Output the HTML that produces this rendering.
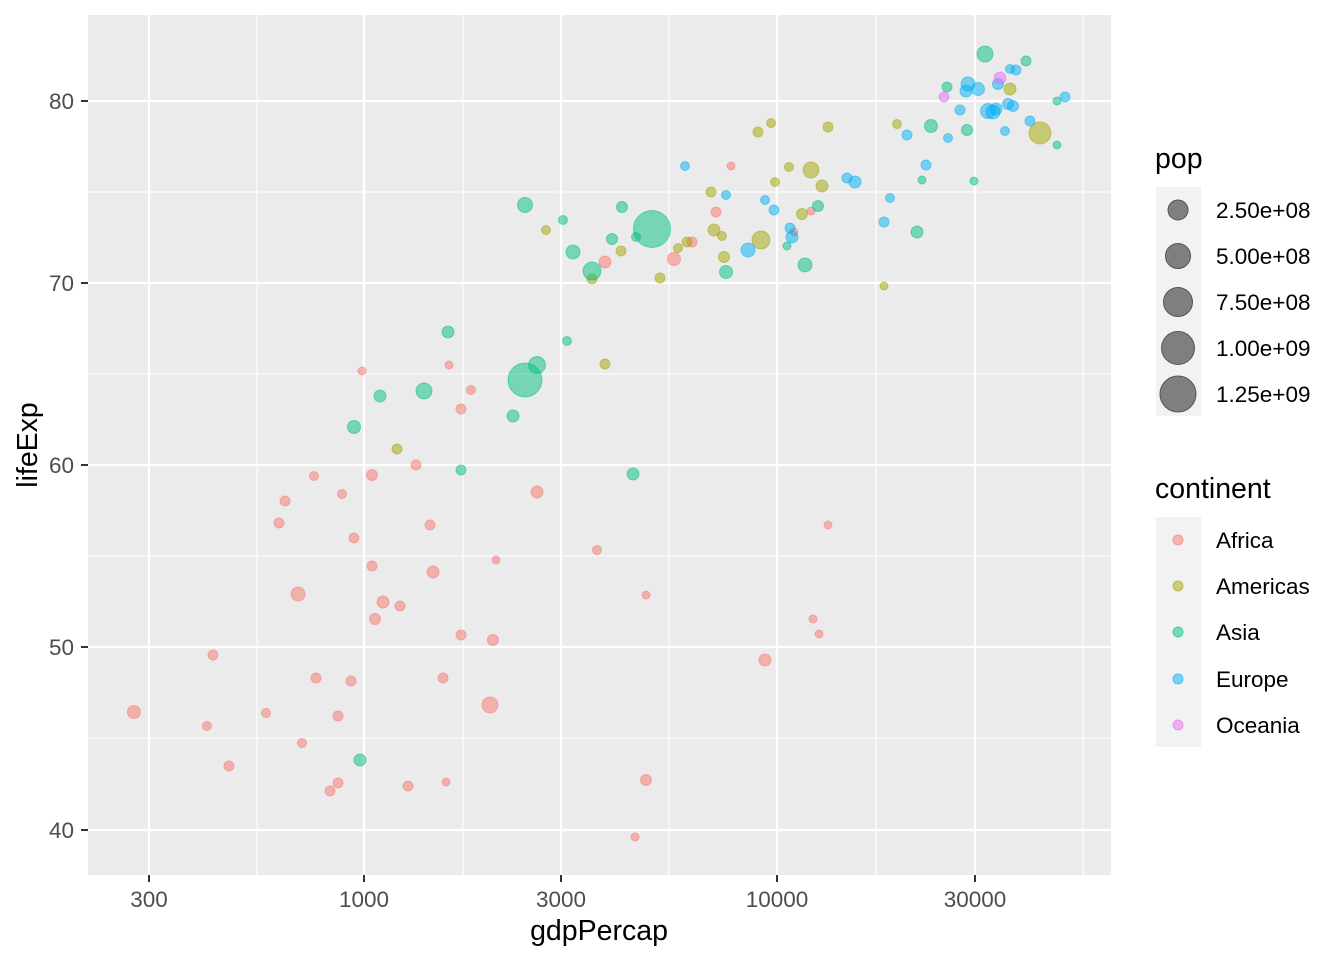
<!DOCTYPE html>
<html><head><meta charset="utf-8"><style>
body{margin:0;background:#fff;}
svg text{font-family:"Liberation Sans",Arial,sans-serif;}
</style></head><body>
<svg width="1344" height="960" viewBox="0 0 1344 960" xmlns="http://www.w3.org/2000/svg">
<rect x="0" y="0" width="1344" height="960" fill="#fff"/>
<rect x="88" y="15" width="1023" height="860" fill="#ebebeb"/>
<g stroke="#fff" stroke-width="1.1">
<line x1="88" x2="1111" y1="192" y2="192"/><line x1="88" x2="1111" y1="374" y2="374"/><line x1="88" x2="1111" y1="556" y2="556"/><line x1="88" x2="1111" y1="738" y2="738"/>
<line y1="15" y2="875" x1="257" x2="257"/><line y1="15" y2="875" x1="463" x2="463"/><line y1="15" y2="875" x1="669" x2="669"/><line y1="15" y2="875" x1="876" x2="876"/><line y1="15" y2="875" x1="1083" x2="1083"/>
</g>
<g stroke="#fff" stroke-width="2.2">
<line x1="88" x2="1111" y1="101" y2="101"/><line x1="88" x2="1111" y1="283" y2="283"/><line x1="88" x2="1111" y1="465" y2="465"/><line x1="88" x2="1111" y1="647" y2="647"/><line x1="88" x2="1111" y1="830" y2="830"/>
<line y1="15" y2="875" x1="149" x2="149"/><line y1="15" y2="875" x1="364" x2="364"/><line y1="15" y2="875" x1="561" x2="561"/><line y1="15" y2="875" x1="777" x2="777"/><line y1="15" y2="875" x1="975" x2="975"/>
</g>
<g id="pts" fill-opacity="0.5" stroke-opacity="0.5" stroke-width="1"></g>
<g font-size="22.5" fill="#4d4d4d">
<text x="74" y="109" text-anchor="end">80</text><text x="74" y="291" text-anchor="end">70</text><text x="74" y="473" text-anchor="end">60</text><text x="74" y="655" text-anchor="end">50</text><text x="74" y="838" text-anchor="end">40</text>
<text x="149" y="907" text-anchor="middle">300</text><text x="364" y="907" text-anchor="middle">1000</text><text x="561" y="907" text-anchor="middle">3000</text><text x="777" y="907" text-anchor="middle">10000</text><text x="975" y="907" text-anchor="middle">30000</text>
</g>
<g stroke="#333" stroke-width="2">
<line x1="81" x2="88" y1="101" y2="101"/><line x1="81" x2="88" y1="283" y2="283"/><line x1="81" x2="88" y1="465" y2="465"/><line x1="81" x2="88" y1="647" y2="647"/><line x1="81" x2="88" y1="830" y2="830"/>
<line y1="875" y2="882" x1="149" x2="149"/><line y1="875" y2="882" x1="364" x2="364"/><line y1="875" y2="882" x1="561" x2="561"/><line y1="875" y2="882" x1="777" x2="777"/><line y1="875" y2="882" x1="975" x2="975"/>
</g>
<text x="599" y="940" font-size="28.5" text-anchor="middle">gdpPercap</text>
<text transform="translate(37,445) rotate(-90)" font-size="28.5" text-anchor="middle">lifeExp</text>
<text x="1155" y="168" font-size="28.5">pop</text>
<rect x="1156" y="187" width="45" height="229" fill="#f2f2f2"/>
<g fill="#7f7f7f" stroke="#555" stroke-width="1">
<circle cx="1178" cy="210" r="10"/><circle cx="1178" cy="256" r="12.5"/><circle cx="1178" cy="302" r="14.5"/><circle cx="1178" cy="348" r="16.5"/><circle cx="1178" cy="394" r="18"/>
</g>
<g font-size="22.5" fill="#000">
<text x="1216" y="218">2.50e+08</text><text x="1216" y="264">5.00e+08</text><text x="1216" y="310">7.50e+08</text><text x="1216" y="356">1.00e+09</text><text x="1216" y="402">1.25e+09</text>
</g>
<text x="1155" y="498" font-size="28.5">continent</text>
<rect x="1156" y="517" width="45" height="230" fill="#f2f2f2"/>
<g fill-opacity="0.5" stroke-opacity="0.6">
<circle cx="1178" cy="540" r="5" fill="#F8766D" stroke="#F8766D"/>
<circle cx="1178" cy="586" r="5" fill="#A3A500" stroke="#A3A500"/>
<circle cx="1178" cy="632" r="5" fill="#00BF7D" stroke="#00BF7D"/>
<circle cx="1178" cy="679" r="5" fill="#00B0F6" stroke="#00B0F6"/>
<circle cx="1178" cy="725" r="5" fill="#E76BF3" stroke="#E76BF3"/>
</g>
<g font-size="22.5" fill="#000">
<text x="1216" y="548">Africa</text><text x="1216" y="594">Americas</text><text x="1216" y="640">Asia</text><text x="1216" y="687">Europe</text><text x="1216" y="733">Oceania</text>
</g>
</svg>
<script>
var C={a:"#F8766D",m:"#A3A500",s:"#00BF7D",e:"#00B0F6",o:"#E76BF3"};
var P={a:[[134,712,6.5],[207,726,4.5],[213,655,5],[229,766,5],[266,713,4.5],[279,523,5],[285,501,5],[298,594,7],[302,743,4.5],[314,476,4.5],[316,678,5],[330,791,5],[338,783,5],[338,716,5],[342,494,4.5],[351,681,5],[354,538,5],[362,371,4],[372,475,5.5],[372,566,5],[375,619,5.5],[383,602,6],[400,606,5],[408,786,5],[416,465,5],[430,525,5],[433,572,6],[443,678,5],[446,782,4],[449,365,4],[461,409,5],[461,635,5],[471,390,4.5],[490,705,8],[493,640,5.5],[496,560,4],[537,492,6],[597,550,4.5],[605,262,6],[635,837,4],[646,595,4],[646,780,5.5],[674,259,6.5],[692,242,5],[716,212,5],[731,166,4],[765,660,6],[794,232,4],[811,211,4],[813,619,4],[819,634,4],[828,525,4]],
m:[[397,449,5],[546,230,4.5],[592,279,5],[605,364,5],[621,251,5],[660,278,5],[678,248,4.5],[687,242,5],[711,192,5],[714,230,6],[722,236,4.5],[724,257,5.5],[758,132,5],[761,240,9],[771,123,4.5],[775,182,4.5],[789,167,4.5],[802,214,5.5],[811,170,8],[822,186,6],[828,127,5],[884,286,4],[897,124,4.5],[1010,89,6],[1040,133,11]],
s:[[360,760,6],[354,427,6.5],[380,396,6],[424,391,8],[448,332,6],[461,470,5],[513,416,6],[525,205,7.5],[525,380,17],[537,365,8.5],[563,220,4.5],[567,341,4.5],[573,252,7],[592,271,9],[612,239,5.5],[622,207,5.5],[633,474,6],[636,237,4.5],[652,229,18.5],[726,272,6.5],[787,246,4],[805,265,7],[818,206,5.5],[922,180,4],[917,232,6],[931,126,6.5],[947,87,5],[967,130,5.5],[974,181,4],[985,54,8],[1026,61,5],[1057,101,4],[1057,145,4]],
e:[[685,166,4.5],[726,195,4.5],[748,250,7],[765,200,4.5],[774,210,5],[790,228,5],[792,237,6],[847,178,5],[855,182,6],[884,222,5],[890,198,4.5],[907,135,5],[926,165,5],[948,138,4.5],[960,110,5],[966,91,6],[968,84,7],[978,89,6.5],[988,111,7.5],[993,112,7],[996,109,6],[998,84,5.5],[1005,131,4.5],[1008,104,5.5],[1013,106,5.5],[1010,69,4.5],[1016,70,5],[1030,121,5],[1065,97,5]],
o:[[944,97,5],[1000,78,6]]};
var g=document.getElementById("pts"),ns="http://www.w3.org/2000/svg";
for(var k in P)P[k].forEach(function(p){var c=document.createElementNS(ns,"circle");c.setAttribute("cx",p[0]);c.setAttribute("cy",p[1]);c.setAttribute("r",p[2]);c.setAttribute("fill",C[k]);c.setAttribute("stroke",C[k]);g.appendChild(c);});
</script>
</body></html>
